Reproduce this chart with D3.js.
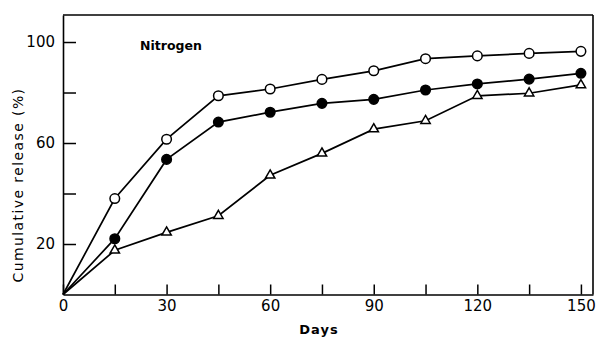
<!DOCTYPE html>
<html><head><meta charset="utf-8">
<script src="https://cdn.jsdelivr.net/npm/d3@7"></script>
<style>body{margin:0;background:#fff}svg{display:block}</style>
</head><body>
<svg id="c" width="596" height="338"></svg>
<script>
const days = [0, 15, 30, 45, 60, 75, 90, 105, 120, 135, 150];
const openCircle = [0, 38, 61.5, 78.7, 81.4, 85.2, 88.6, 93.4, 94.5, 95.5, 96.3];
const filledCircle = [0, 22.1, 53.5, 68.3, 72.2, 75.7, 77.3, 81, 83.4, 85.3, 87.6];
const triangle = [0, 17.5, 24.6, 31.2, 47.2, 55.9, 65.5, 68.8, 78.7, 79.7, 83];
const xTicks = [0, 15, 30, 45, 60, 75, 90, 105, 120, 135, 150];
const xLabels = [0, 30, 60, 90, 120, 150];
const yTicks = [20, 40, 60, 80, 100];
const yLabels = [20, 60, 100];

const svg = d3.select("#c");
const x = d3.scaleLinear().domain([0, 153.5]).range([63, 593]);
const y = d3.scaleLinear().domain([0, 110.7]).range([294.5, 15]);
const font = "'DejaVu Sans', sans-serif";

// frame top & right
svg.append("line").attr("x1", x(0)).attr("x2", x(153.5)).attr("y1", y(110.7)).attr("y2", y(110.7))
  .attr("stroke", "#000").attr("stroke-width", 1.6);
svg.append("line").attr("x1", x(153.5)).attr("x2", x(153.5)).attr("y1", y(110.7)).attr("y2", y(0))
  .attr("stroke", "#000").attr("stroke-width", 1.6);

const xAxis = svg.append("g").attr("transform", `translate(0,${y(0)})`)
  .call(d3.axisBottom(x).tickValues(xTicks).tickSizeInner(-10).tickSizeOuter(0).tickPadding(6)
    .tickFormat(d => xLabels.includes(d) ? d : ""));
const yAxis = svg.append("g").attr("transform", `translate(${x(0)},0)`)
  .call(d3.axisLeft(y).tickValues(yTicks).tickSizeInner(-13).tickSizeOuter(0).tickPadding(8)
    .tickFormat(d => yLabels.includes(d) ? d : ""));
[xAxis, yAxis].forEach(g => {
  g.select(".domain").attr("stroke-width", 1.6);
  g.selectAll(".tick line").attr("stroke-width", 1.5);
  g.selectAll("text").attr("font-family", font).attr("font-size", 15).attr("fill", "#000");
});

const line = d3.line().x(d => x(d[0])).y(d => y(d[1]));
const series = [
  {vals: triangle, type: "tri"},
  {vals: filledCircle, type: "filled"},
  {vals: openCircle, type: "open"}
];
series.forEach(s => {
  const pts = days.map((d, i) => [d, s.vals[i]]);
  svg.append("path").datum(pts).attr("d", line).attr("fill", "none")
    .attr("stroke", "#000").attr("stroke-width", 1.7);
});
series.forEach(s => {
  const pts = days.map((d, i) => [d, s.vals[i]]).slice(1);
  if (s.type === "tri") {
    svg.selectAll(null).data(pts).enter().append("path")
      .attr("d", d3.symbol().type(d3.symbolTriangle).size(38))
      .attr("transform", d => `translate(${x(d[0])},${y(d[1])})`)
      .attr("fill", "#fff").attr("stroke", "#000").attr("stroke-width", 1.5);
  } else {
    svg.selectAll(null).data(pts).enter().append("circle")
      .attr("cx", d => x(d[0])).attr("cy", d => y(d[1])).attr("r", 4.8)
      .attr("fill", s.type === "open" ? "#fff" : "#000")
      .attr("stroke", "#000").attr("stroke-width", 1.5);
  }
});

svg.append("text").attr("x", 140).attr("y", 50).text("Nitrogen").attr("fill", "#000")
  .attr("font-family", font).attr("font-size", 12.5).attr("font-weight", "bold");
svg.append("text").attr("x", 319).attr("y", 334).attr("text-anchor", "middle").text("Days").attr("fill", "#000")
  .attr("font-family", font).attr("font-size", 13).attr("font-weight", "bold").attr("letter-spacing", 1);
svg.append("text").attr("transform", "translate(23,185) rotate(-90)").attr("text-anchor", "middle")
  .text("Cumulative release (%)").attr("fill", "#000")
  .attr("font-family", font).attr("font-size", 14).attr("letter-spacing", 1.4);
</script>
</body></html>
